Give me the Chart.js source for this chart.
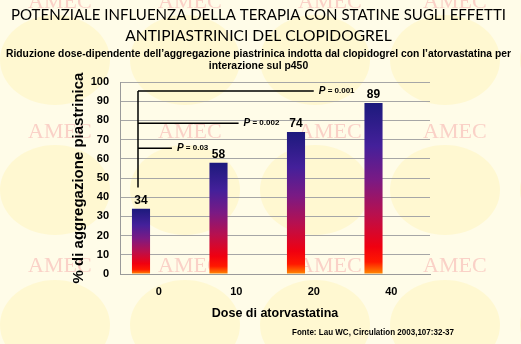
<!DOCTYPE html>
<html>
<head>
<meta charset="utf-8">
<script src="https://cdn.jsdelivr.net/npm/chart.js@4"></script>
<style>
  html, body { margin: 0; padding: 0; background: #fffce6; }
  #wrap { position: relative; width: 521px; height: 344px; }
</style>
</head>
<body>
<div id="wrap"><canvas id="chart" width="521" height="344"></canvas></div>
<script>
const doses = ["0", "10", "20", "40"];
const aggregation = [34, 58, 74, 89];
const yTicks = [0, 10, 20, 30, 40, 50, 60, 70, 80, 90, 100];

// p-value brackets: level on the y scale, end in category units
const pLabels = ["0.03", "0.002", "0.001"];
const pLevels = [65.5, 78.5, 95.3];
const pEnds = [0.17, 1.03, 2.0];
const bracketFloor = 45;

const titleLines = [
  "POTENZIALE INFLUENZA DELLA TERAPIA CON STATINE SUGLI EFFETTI",
  "ANTIPIASTRINICI DEL CLOPIDOGREL",
];
const subtitleLines = [
  "Riduzione dose-dipendente dell\u2019aggregazione piastrinica indotta dal clopidogrel con l\u2019atorvastatina per",
  "interazione sul p450",
];
const sourceText = "Fonte: Lau WC, Circulation 2003,107:32-37";

const gradStops = [
  [0, "#ff8a00"],
  [0.07, "#ff1800"],
  [0.16, "#f00010"],
  [0.35, "#b8104e"],
  [0.55, "#7a1a84"],
  [0.75, "#44209a"],
  [1, "#1c1a7c"],
];

const barFill = (ctx) => {
  const chart = ctx.chart;
  if (!chart.chartArea || ctx.type !== "data") return gradStops[3][1];
  const y = chart.scales.y;
  const g = chart.ctx.createLinearGradient(0, y.getPixelForValue(0), 0, y.getPixelForValue(ctx.parsed.y));
  gradStops.forEach(([s, c]) => g.addColorStop(s, c));
  return g;
};

const backdrop = {
  id: "backdrop",
  beforeDraw(chart) {
    const { ctx, width, height } = chart;
    ctx.save();
    ctx.fillStyle = "#fffce8";
    ctx.fillRect(0, 0, width, height);
    ctx.fillStyle = "rgba(255, 242, 175, 0.4)";
    [0, 130, 265].forEach((ty) => {
      [-5, 125, 255, 385, 515].forEach((tx) => {
        ctx.beginPath();
        ctx.ellipse(tx + 60, ty + 60, 55, 45, 0, 0, Math.PI * 2);
        ctx.fill();
      });
    });
    ctx.fillStyle = "rgba(245, 165, 165, 0.5)";
    ctx.font = "22px 'Liberation Serif', serif";
    ctx.textBaseline = "middle";
    [2, 132, 266].forEach((ty) => {
      [28, 158, 298, 423].forEach((tx) => ctx.fillText("AMEC", tx, ty));
    });
    ctx.restore();
  },
  afterDraw(chart) {
    const { ctx, width } = chart;
    ctx.save();
    ctx.fillStyle = "#000";
    ctx.textAlign = "center";
    ctx.textBaseline = "middle";
    ctx.font = "15.6px Lato, 'Open Sans', sans-serif";
    titleLines.forEach((t, i) => ctx.fillText(t, width / 2 - 2, 15 + i * 21, 495));
    ctx.font = "bold 10.4px 'Liberation Sans', Arial, sans-serif";
    subtitleLines.forEach((t, i) => ctx.fillText(t, width / 2 - 2, 54 + i * 12, 505));
    ctx.font = "bold 8.5px 'Liberation Sans', Arial, sans-serif";
    ctx.textAlign = "right";
    ctx.fillText(sourceText, 454, 333, 162);
    ctx.restore();
  },
};

const annotations = {
  id: "annotations",
  afterDatasetsDraw(chart) {
    const { ctx } = chart;
    const xs = chart.scales.x;
    const ys = chart.scales.y;
    const bars = chart.getDatasetMeta(0).data;
    ctx.save();
    // value labels
    ctx.fillStyle = "#000";
    ctx.font = "bold 12px 'Liberation Sans', Arial, sans-serif";
    ctx.textAlign = "center";
    ctx.textBaseline = "bottom";
    bars.forEach((bar, i) => ctx.fillText(String(aggregation[i]), bar.x, bar.y - 2));

    // brackets
    const step = xs.getPixelForValue(1) - xs.getPixelForValue(0);
    const x0 = bars[0].x - 3;
    ctx.strokeStyle = "#000";
    ctx.lineWidth = 1.5;
    ctx.beginPath();
    ctx.moveTo(x0, ys.getPixelForValue(pLevels[pLevels.length - 1]));
    ctx.lineTo(x0, ys.getPixelForValue(bracketFloor));
    pLevels.forEach((lv, i) => {
      const yy = ys.getPixelForValue(lv);
      ctx.moveTo(x0, yy);
      ctx.lineTo(xs.getPixelForValue(0) + pEnds[i] * step, yy);
    });
    ctx.stroke();

    ctx.textAlign = "left";
    ctx.textBaseline = "middle";
    pLevels.forEach((lv, i) => {
      const yy = ys.getPixelForValue(lv);
      let tx = xs.getPixelForValue(0) + pEnds[i] * step + 5;
      ctx.font = "italic bold 10px 'Liberation Sans', Arial, sans-serif";
      ctx.fillText("P", tx, yy);
      tx += ctx.measureText("P").width;
      ctx.font = "bold 8px 'Liberation Sans', Arial, sans-serif";
      ctx.fillText(" = " + pLabels[i], tx, yy);
    });
    ctx.restore();
  },
};

new Chart(document.getElementById("chart"), {
  type: "bar",
  data: {
    labels: doses,
    datasets: [
      {
        data: aggregation,
        backgroundColor: barFill,
        borderWidth: 0,
        categoryPercentage: 0.916,
        barPercentage: 0.51,
      },
      {
        data: doses.map(() => null),
        categoryPercentage: 0.916,
        barPercentage: 0.51,
      },
    ],
  },
  options: {
    responsive: false,
    animation: false,
    layout: { padding: { left: 60, right: 91, top: 82, bottom: 22 } },
    plugins: {
      legend: { display: false },
      tooltip: { enabled: false },
      title: { display: false },
    },
    scales: {
      x: {
        afterFit: (s) => { s.height = 48; },
        grid: { display: false, drawTicks: false },
        border: { color: "#9a9a9a", width: 1 },
        ticks: {
          color: "#000",
          padding: 11,
          font: { family: "'Liberation Sans', Arial, sans-serif", size: 11, weight: "bold" },
        },
        title: {
          display: true,
          text: "Dose di atorvastatina",
          color: "#000",
          font: { family: "'Liberation Sans', Arial, sans-serif", size: 12.5, weight: "bold" },
          padding: { top: 0, bottom: 1 },
        },
      },
      y: {
        min: 0,
        max: 100,
        afterFit: (s) => { s.width = 60; },
        afterBuildTicks: (s) => { s.ticks = yTicks.map((v) => ({ value: v })); },
        grid: { color: "#a6a6a6", drawTicks: false },
        border: { color: "#9a9a9a", width: 1 },
        ticks: {
          color: "#000",
          padding: 11,
          font: { family: "'Liberation Sans', Arial, sans-serif", size: 11, weight: "bold" },
        },
        title: {
          display: true,
          text: "% di aggregazione piastrinica",
          color: "#000",
          font: { family: "'Liberation Sans', Arial, sans-serif", size: 15, weight: "bold" },
          padding: { top: 10, bottom: 0 },
        },
      },
    },
  },
  plugins: [backdrop, annotations],
});
</script>
</body>
</html>
